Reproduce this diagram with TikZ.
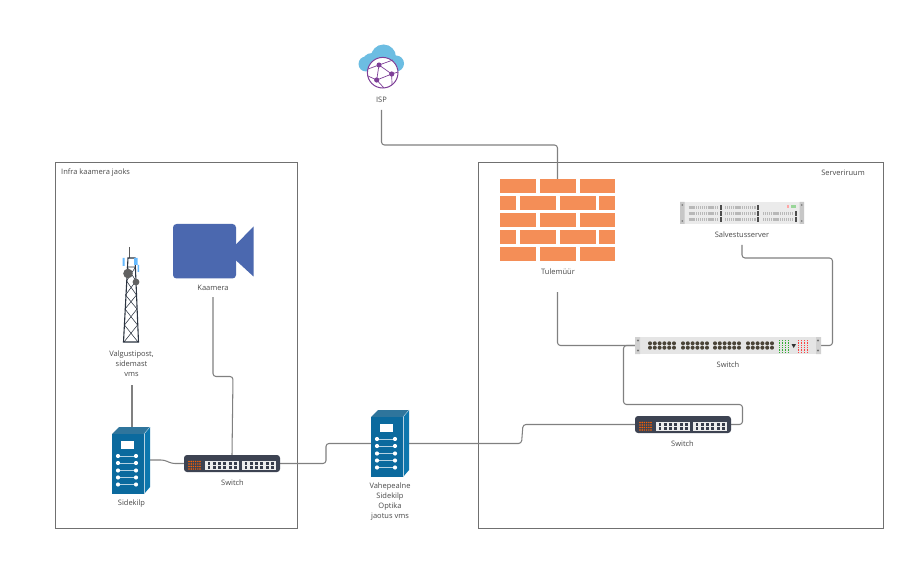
\documentclass[tikz,border=0pt]{standalone}
\usepackage{fontspec}
\setmainfont{Open Sans}
\definecolor{rackfront}{HTML}{0B6A9E}
\definecolor{rackside}{HTML}{0D77AE}
\definecolor{rackdark}{HTML}{0A5C8A}
\definecolor{brick}{HTML}{F48E57}
\definecolor{camblue}{HTML}{4B68AF}
\definecolor{cloudblue}{HTML}{6CBDE2}
\definecolor{globe}{HTML}{7E3F98}
\definecolor{conn}{HTML}{808080}
\definecolor{frameg}{HTML}{707070}
\definecolor{labelg}{HTML}{4A4A4A}
\definecolor{swdark}{HTML}{3D4352}
\definecolor{towerc}{HTML}{2B3340}
\definecolor{portdark}{HTML}{4A4438}
\tikzset{
  x=1pt,y=-1pt,
  frame/.style={draw=frameg,line width=0.8pt},
  wire/.style={draw=conn,line width=1.05pt,rounded corners=3pt},
  lbl/.style={text=labelg,font=\fontsize{7.5}{10}\selectfont,align=center,inner sep=0pt},
  anchorbox/.style n args={2}{inner sep=0pt,outer sep=0pt,minimum width=#1,minimum height=#2,draw=none,fill=none},
}
\newcommand{\rackicon}[2]{%
\begin{scope}[shift={(#1,#2)}]
  \fill[rackdark!85] (0,7)--(7,0)--(38,0)--(32,7)--cycle;
  \fill[rackside] (32,7)--(38,0)--(38,60)--(32,67)--cycle;
  \fill[rackfront] (0,7) rectangle (32,67);
  \draw[white!70!rackfront,line width=0.4pt] (32,7)--(38,0);
  \draw[white!70!rackfront,line width=0.3pt] (32,7)--(32,67);
  \fill[white] (9,14) rectangle (22,21.5);
  \foreach \yy in {29,36,43.5,50.5,57.5}{
    \draw[white!70!rackfront,line width=0.4pt] (6,\yy)--(24,\yy);
    \fill[white] (6,\yy) circle (2.1);
    \fill[white] (24,\yy) circle (2.1);
  }
\end{scope}}
\newcommand{\darkswitch}[2]{%
\begin{scope}[shift={(#1,#2)}]
  \fill[swdark,rounded corners=3pt] (0,0) rectangle (96,17);
  \foreach \xx in {5,7.2,9.4,11.6,13.8,16}\foreach \yy in {6.5,9,11.5,14}
    \fill[orange!75!red] (\xx,\yy) circle (0.8);
  \fill[white!93!black] (20.5,5.5) rectangle (54.5,15);
  \fill[white!93!black] (57.5,5.5) rectangle (92,15);
  \foreach \xx in {23.5,28.8,34.1,39.4,44.7,50,60.5,65.8,71.1,76.4,81.7,87}{
    \fill[swdark!90!black] (\xx,7.4) rectangle +(2.8,2.6);
    \fill[swdark!90!black] (\xx,11) rectangle +(2.8,2.6);
  }
\end{scope}}
\begin{document}
\begin{tikzpicture}
\useasboundingbox (0,0) rectangle (924,580);
\fill[white] (0,0) rectangle (924,580);

% frames
\node[anchorbox={242}{366},frame,anchor=north west] (leftzone) at (55,162) {};
\node[anchorbox={405}{366},frame,anchor=north west] (rightzone) at (478,162) {};
\node[lbl,anchor=west] (leftzonelbl) at (61,173) {Infra kaamera jaoks};
\node[lbl,anchor=east] (rightzonelbl) at (865,173) {Serveriruum};

% anchors of icons
\node[anchorbox={115}{82},anchor=north west] (fw) at (500,179) {};
\node[anchorbox={186}{17},anchor=north west] (bigsw) at (635,337) {};
\node[anchorbox={96}{17},anchor=north west] (lowsw) at (635,416) {};
\node[anchorbox={96}{17},anchor=north west] (leftsw) at (184,455) {};
\node[anchorbox={38}{67},anchor=north west] (midrack) at (371,410) {};
\node[anchorbox={38}{67},anchor=north west] (siderack) at (112,427) {};
\node[anchorbox={124}{22},anchor=north west] (server) at (680,202) {};

% connection free ends (below the labels)
\coordinate (ispout) at (381.5,110);
\coordinate (fwout) at (557.5,292);
\coordinate (srvout) at (742,245);
\coordinate (camout) at (213,297);
\coordinate (towerout) at (132,385);

% connectors
\draw[wire] (ispout) -- (381.5,145) -- (557.5,145) -- (fw.north);
\draw[wire] (fwout) -- (557.5,345.5) -- (bigsw.west);
\draw[wire] (srvout) -- (742,258) -- (832.5,258) -- (832.5,345.5) -- (bigsw.east);
\draw[wire] (bigsw.west) -- (623.5,345.5) -- (623.5,404.5) -- (742.5,404.5) -- (742.5,424.5) -- (lowsw.east);
\draw[wire] (lowsw.west) -- (523,424.5) -- (521.5,443.5) -- (midrack.east |- 0,443.5);
\draw[wire] (leftsw.east) -- (326,463.5) -- (326,443.5) -- (midrack.west |- 0,443.5);
\draw[wire] (camout) -- (213,376.5) -- (233,376.5) -- (leftsw.north);
\draw[wire] (towerout) -- (siderack.north -| towerout);
\draw[wire] (siderack.east |- 0,460) -- (164,460) -- (172,463.5) -- (leftsw.west);

% ISP icon
\fill[cloudblue] (366,64) circle (7.5) (372,63) circle (10) (383.5,57) circle (12.5) (396,63.5) circle (8) (375,62) rectangle (395,70);
\fill[white] (382.7,72.7) circle (15.5);
\draw[globe,line width=1pt] (382.7,72.7) circle (15.3);
\coordinate (ga) at (379,65);
\coordinate (gb) at (391.7,74);
\coordinate (gc) at (376.7,80);
\draw[globe,line width=0.7pt] (ga)--(gb)--(gc)--(ga) (ga)--(368,69) (ga)--(393,60) (gb)--(398,72) (gb)--(392,85) (gc)--(368,76) (gc)--(384,88);
\fill[globe] (ga) circle (2.5) (gb) circle (2.6) (gc) circle (2.6);
\node[lbl] (ispl) at (381.5,100) {ISP};

% Firewall
\foreach \yy in {179,213,247}{
  \fill[brick] (500,\yy) rectangle (535.5,\yy+14);
  \fill[brick] (540,\yy) rectangle (575.5,\yy+14);
  \fill[brick] (580,\yy) rectangle (615,\yy+14);
}
\foreach \yy in {196,230}{
  \fill[brick] (500,\yy) rectangle (515.5,\yy+14);
  \fill[brick] (520,\yy) rectangle (555.5,\yy+14);
  \fill[brick] (560,\yy) rectangle (595.5,\yy+14);
  \fill[brick] (599,\yy) rectangle (615,\yy+14);
}
\node[lbl] (fwl) at (558,272) {Tulemüür};

% Server
\begin{scope}[shift={(680,202)}]
  \fill[white!92!black] (0,0) rectangle (124,22);
  \fill[white!78!black] (0,0) rectangle (4.5,22) (119.5,0) rectangle (124,22);
  \fill[black!55] (2.2,3) circle (0.9) (2.2,19) circle (0.9) (121.8,3) circle (0.9) (121.8,19) circle (0.9);
  \foreach \yy in {5.5,11.5,17.5}{
    \draw[white!72!black,line width=3.6pt,dash pattern=on 1.2pt off 0.7pt] (8.5,\yy)--(38,\yy);
    \draw[white!72!black,line width=3.6pt,dash pattern=on 1.2pt off 0.7pt] (45,\yy)--(76,\yy);
    \fill[black!70] (39.5,\yy-2.5) rectangle (41.5,\yy+2.5);
    \fill[black!70] (77,\yy-2.5) rectangle (79,\yy+2.5);
  }
  \foreach \yy in {11.5,17.5}{
    \draw[white!72!black,line width=3.6pt,dash pattern=on 1.2pt off 0.7pt] (83,\yy)--(113,\yy);
    \fill[black!70] (114.5,\yy-2.5) rectangle (116.5,\yy+2.5);
  }
  \fill[red!35] (107,3.5) rectangle (108.5,6);
  \fill[green!60!black!40] (111,3.5) rectangle (116,6);
\end{scope}
\node[lbl] (srvl) at (742,235) {Salvestusserver};

% Big switch
\begin{scope}[shift={(635,337)}]
  \fill[white!90!black] (0,0) rectangle (186,17);
  \fill[white!82!black] (0,0) rectangle (5,17) (181,0) rectangle (186,17);
  \fill[black!55] (3,3.5) circle (1.1) (3,13.5) circle (1.1) (183,3.5) circle (1.1) (183,13.5) circle (1.1);
  \foreach \bx in {13,46,78,111}{
    \foreach \ci in {0,1,2,3,4,5}{
      \fill[portdark] (\bx+\ci*4.8+2,6.3) circle (2);
      \fill[portdark] (\bx+\ci*4.8+2,10.7) circle (2);
    }
  }
  \foreach \xx in {144.5,147.5,150.5,153.5}
    \draw[green!60!black!80,line width=1pt,dash pattern=on 1pt off 0.7pt] (\xx,3)--(\xx,15);
  \foreach \xx in {163.5,166.5,169.5,172.5}
    \draw[red!75,line width=1pt,dash pattern=on 1pt off 0.7pt] (\xx,3)--(\xx,15);
  \fill[black!80] (156.5,7)--(161,7)--(158.7,11)--cycle;
\end{scope}
\node[lbl] (bigswl) at (728,365) {Switch};

% Lower and left switches
\darkswitch{635}{416}
\node[lbl] (lowswl) at (682.5,443.5) {Switch};
\darkswitch{184}{455}
\node[lbl] (leftswl) at (232.5,483) {Switch};

% Racks
\rackicon{371}{410}
\node[lbl] (midrackl) at (390,502) {Vahepealne\\Sidekilp\\Optika\\jaotus vms};
\rackicon{112}{427}
\node[lbl] (siderackl) at (131.5,504) {Sidekilp};

% Camera
\fill[camblue,rounded corners=3.5pt] (173,224) rectangle (236,278.5);
\fill[camblue] (235,245.5)--(253.5,226.5)--(253.5,276.5)--(235,259.5)--cycle;
\node[lbl] (caml) at (213,287.5) {Kaamera};

% Tower
\draw[conn!70!black,line width=0.8pt] (129,247)--(129,258);
\draw[towerc,line width=1.1pt] (128,258)--(123.5,342)--(138.5,342)--(135,258)--cycle;
\draw[towerc,line width=0.55pt]
  (127.5,267)--(135.5,267) (127,267)--(136,281)--(125.5,295)--(137,309)--(124.5,325)--(138,342)
  (135.5,267)--(126.5,281)--(136.5,295)--(125,309)--(137.5,325)--(124,342);
\fill[blue!45!cyan!60] (122.5,258) rectangle (124.5,266) (134,258) rectangle (137.5,265) (137.5,265) rectangle (139,272);
\fill[black!62] (128,273.5) circle (4.8);
\fill[black!62] (136,282) circle (3.4);
\node[lbl] (towerl) at (131.5,364) {Valgustipost,\\sidemast\\vms};
\end{tikzpicture}
\end{document}
